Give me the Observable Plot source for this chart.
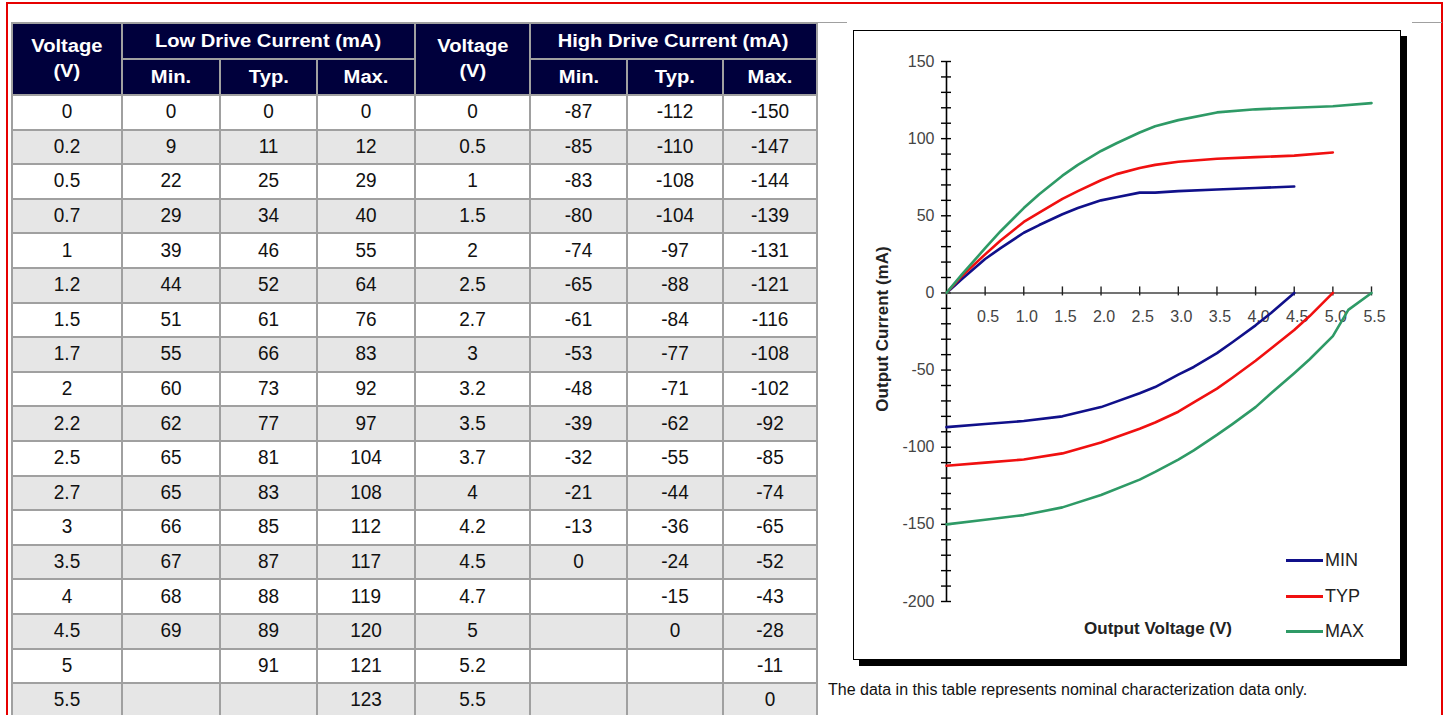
<!DOCTYPE html>
<html><head><meta charset="utf-8">
<script src="https://cdn.jsdelivr.net/npm/d3@7"></script>
<script src="https://cdn.jsdelivr.net/npm/@observablehq/plot@0.6"></script>
<style>
html,body{margin:0;padding:0;background:#fff;width:1448px;height:715px;overflow:hidden;font-family:"Liberation Sans",Arial,sans-serif;}
#frame{position:absolute;left:6px;top:2px;width:1437px;height:760px;border:2px solid #e60000;box-sizing:border-box;}
#tbl{position:absolute;left:11px;top:22px;display:grid;background:#a0a0a0;padding:2px;gap:2px;
 grid-template-columns:108px 96px 95px 96px 113px 95px 94px 92px;
 grid-template-rows:34px 34px repeat(18, 32.6px);}
.h{background:#00003c;color:#fff;font-weight:bold;font-size:18px;display:flex;align-items:center;justify-content:center;text-align:center;line-height:25px;}
.h span{display:inline-block;transform:scaleX(1.12);}
.c{display:flex;align-items:center;justify-content:center;font-size:19px;color:#111;background:#fff;}
.c span{display:inline-block;transform:scaleY(1.08);}
.c.alt{background:#e6e6e6;}
.gline{position:absolute;top:22px;height:1px;background:#a0a0a0;}
#box{position:absolute;left:853px;top:30px;width:546px;height:628px;border:1px solid #000;box-shadow:6px 6px 0 #000;background:#fff;}
#box svg{display:block;}
.lbl{position:absolute;font-weight:bold;font-size:17px;color:#222;white-space:nowrap;}
.leg{position:absolute;font-size:18px;color:#222;line-height:20px;}
.leg i{position:absolute;left:0;top:9px;width:37px;height:3px;}
.leg b{position:absolute;left:39px;top:0;font-weight:normal;}
#cap{position:absolute;left:828px;top:681px;font-size:16px;line-height:18px;color:#111;white-space:nowrap;}
</style></head>
<body>
<div id="frame"></div>
<div class="gline" style="left:817px;width:30px"></div>
<div class="gline" style="left:1412px;width:30px"></div>
<div id="tbl"></div>
<div id="box"></div>
<div class="lbl" id="xlab" style="left:1158px;top:629px;transform:translate(-50%,-50%)">Output Voltage (V)</div>
<div class="lbl" id="ylab" style="left:883px;top:329px;transform:translate(-50%,-50%) rotate(-90deg)">Output Current (mA)</div>
<div id="legend"></div>
<div id="cap">The data in this table represents nominal characterization data only.</div>
<script>
// ---- data ----
const lowVoltage  = [0,0.2,0.5,0.7,1,1.2,1.5,1.7,2,2.2,2.5,2.7,3,3.5,4,4.5,5,5.5];
const lowMin      = [0,9,22,29,39,44,51,55,60,62,65,65,66,67,68,69,null,null];
const lowTyp      = [0,11,25,34,46,52,61,66,73,77,81,83,85,87,88,89,91,null];
const lowMax      = [0,12,29,40,55,64,76,83,92,97,104,108,112,117,119,120,121,123];
const highVoltage = [0,0.5,1,1.5,2,2.5,2.7,3,3.2,3.5,3.7,4,4.2,4.5,4.7,5,5.2,5.5];
const highMin     = [-87,-85,-83,-80,-74,-65,-61,-53,-48,-39,-32,-21,-13,0,null,null,null,null];
const highTyp     = [-112,-110,-108,-104,-97,-88,-84,-77,-71,-62,-55,-44,-36,-24,-15,0,null,null];
const highMax     = [-150,-147,-144,-139,-131,-121,-116,-108,-102,-92,-85,-74,-65,-52,-43,-28,-11,0];

const seriesNames  = ["MIN","TYP","MAX"];
const seriesColors = ["#10108a","#f01010","#2e9a66"];
const headerCols   = ["Min.","Typ.","Max."];
const xDomain = [0, 5.5];
const yDomain = [-200, 150];
const xTickValues = [0.5,1,1.5,2,2.5,3,3.5,4,4.5,5,5.5];
const yLabelValues = [150,100,50,0,-50,-100,-150,-200];
const yMinorValues = d3.range(-200, 151, 10);

// ---- table ----
const tbl = document.getElementById("tbl");
function cell(cls, html, r, c, rs=1, cs=1){
  const d = document.createElement("div");
  d.className = cls;
  d.style.gridRow = `${r} / span ${rs}`;
  d.style.gridColumn = `${c} / span ${cs}`;
  d.innerHTML = html;
  tbl.appendChild(d);
}
cell("h","<span>Voltage<br>(V)</span>",1,1,2,1);
cell("h","<span>Low Drive Current (mA)</span>",1,2,1,3);
cell("h","<span>Voltage<br>(V)</span>",1,5,2,1);
cell("h","<span>High Drive Current (mA)</span>",1,6,1,3);
headerCols.forEach((t,i)=>{ cell("h",`<span>${t}</span>`,2,2+i); cell("h",`<span>${t}</span>`,2,6+i); });
const fmt = v => v == null ? "" : `<span>${v}</span>`;
lowVoltage.forEach((v,i)=>{
  const cls = "c" + (i % 2 ? " alt" : "");
  const vals = [v, lowMin[i], lowTyp[i], lowMax[i], highVoltage[i], highMin[i], highTyp[i], highMax[i]];
  vals.forEach((x,j)=> cell(cls, fmt(x), 3+i, 1+j));
});

// ---- chart data ----
const rows = [];
[[lowMin,highMin],[lowTyp,highTyp],[lowMax,highMax]].forEach(([lo,hi],k)=>{
  lo.forEach((y,i)=>{ if (y!=null) rows.push({v: lowVoltage[i], i: y, series: seriesNames[k], key: seriesNames[k]+"-low"}); });
  hi.forEach((y,i)=>{ if (y!=null) rows.push({v: highVoltage[i], i: y, series: seriesNames[k], key: seriesNames[k]+"-high"}); });
});

const chart = Plot.plot({
  width: 546, height: 628,
  marginLeft: 92, marginRight: 29, marginTop: 30, marginBottom: 58,
  x: {domain: xDomain, axis: null},
  y: {domain: yDomain, axis: null},
  color: {domain: seriesNames, range: seriesColors},
  style: {fontFamily: "Liberation Sans, Arial, sans-serif", background: "transparent", overflow: "visible"},
  marks: [
    Plot.ruleX([xDomain[0]], {x: d=>d, y1: ()=>yDomain[0], y2: ()=>yDomain[1], stroke: "#000", strokeWidth: 1.6}),
    Plot.ruleY(yMinorValues, {y: d=>d, x1: ()=>xDomain[0], x2: ()=>xDomain[0], insetLeft: -5, insetRight: -5, stroke: "#000", strokeWidth: 1.4}),
    Plot.ruleY([0], {y: d=>d, x1: ()=>xDomain[0], x2: ()=>xDomain[1], stroke: "#444", strokeWidth: 1.6}),
    Plot.ruleX(xTickValues, {x: d=>d, y1: ()=>0, y2: ()=>0, insetTop: -6, insetBottom: -3, stroke: "#222", strokeWidth: 1.4}),
    Plot.text(yLabelValues, {x: ()=>xDomain[0], y: d=>d, text: d=>String(d), textAnchor: "end", dx: -12, fontSize: 16, fill: "#444"}),
    Plot.text(xTickValues, {x: d=>d, y: ()=>0, text: d=>d.toFixed(1), dy: 24, dx: 3, fontSize: 16, fill: "#444"}),
    Plot.line(rows, {x: "v", y: "i", z: "key", stroke: "series", curve: "linear", strokeWidth: 2.6})
  ]
});
document.getElementById("box").appendChild(chart);

// ---- legend ----
const legTop = [550, 586, 621];
const legend = document.getElementById("legend");
seriesNames.forEach((n,k)=>{
  const d = document.createElement("div");
  d.className = "leg";
  d.style.left = "1286px";
  d.style.top = legTop[k] + "px";
  d.innerHTML = `<i style="background:${seriesColors[k]}"></i><b>${n}</b>`;
  legend.appendChild(d);
});
</script>
</body></html>
